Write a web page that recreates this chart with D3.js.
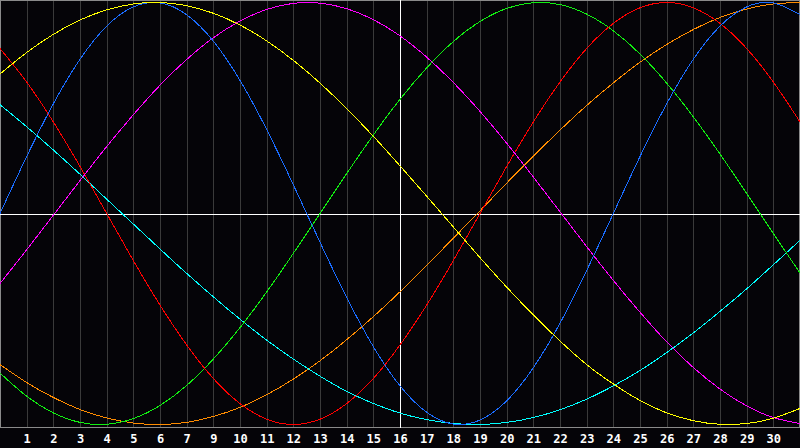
<!DOCTYPE html>
<html>
<head>
<meta charset="utf-8">
<script src="https://cdn.jsdelivr.net/npm/d3@7"></script>
<style>
  html, body { margin: 0; padding: 0; background: #050408; }
  svg { display: block; }
</style>
</head>
<body>
<svg id="chart" width="800" height="448"></svg>
<script>
// day slots 0..30 across the plot
const days = d3.range(0, 31);

// tick labels under grid lines 1..29 (the month skips 8)
const dayLabels = ["1","2","3","4","5","6","7","9","10","11","12","13","14","15","16",
  "17","18","19","20","21","22","23","24","25","26","27","28","29","30"];

// values per day (-1 .. 1)
const yellowVals = [0.661,0.763,0.849,0.917,0.965,0.993,1.0,0.985,0.949,0.893,0.818,0.726,0.618,0.497,0.366,0.226,
  0.082,-0.064,-0.209,-0.349,-0.481,-0.604,-0.716,-0.808,-0.886,-0.945,-0.982,-0.999,-0.995,-0.970,-0.924];
const blueVals = [0,0.270,0.520,0.731,0.888,0.979,0.998,0.942,0.817,0.631,0.398,0.136,-0.136,-0.398,-0.631,-0.817,
  -0.942,-0.998,-0.979,-0.888,-0.731,-0.520,-0.270,0,0.270,0.520,0.731,0.888,0.979,0.998,0.942];
const magentaVals = [-0.332,-0.172,-0.008,0.156,0.317,0.468,0.608,0.730,0.833,0.912,0.967,0.996,0.997,0.971,0.919,0.842,
  0.741,0.621,0.484,0.333,0.173,0.008,-0.157,-0.317,-0.468,-0.608,-0.730,-0.832,-0.912,-0.967,-0.996];
const redVals = [0.782,0.623,0.434,0.223,0,-0.223,-0.434,-0.623,-0.782,-0.901,-0.975,-1.0,-0.975,-0.901,-0.782,-0.623,
  -0.434,-0.223,0,0.223,0.434,0.623,0.782,0.901,0.975,1.0,0.975,0.901,0.782,0.623,0.434];
const greenVals = [-0.756,-0.866,-0.945,-0.990,-0.999,-0.972,-0.910,-0.815,-0.690,-0.541,-0.372,-0.189,0,0.189,0.372,0.541,
  0.690,0.815,0.910,0.972,0.999,0.990,0.945,0.866,0.756,0.618,0.458,0.282,0.095,-0.095,-0.282];
const cyanVals = [0.516,0.411,0.301,0.186,0.068,-0.050,-0.168,-0.284,-0.395,-0.501,-0.600,-0.690,-0.771,-0.843,-0.900,-0.946,
  -0.977,-0.995,-1.0,-0.990,-0.967,-0.930,-0.880,-0.817,-0.744,-0.659,-0.566,-0.464,-0.357,-0.243,-0.127];
const orangeVals = [-0.716,-0.801,-0.872,-0.929,-0.969,-0.993,-1.0,-0.990,-0.962,-0.919,-0.859,-0.785,-0.698,-0.598,-0.489,-0.371,
  -0.246,-0.117,0.013,0.144,0.272,0.395,0.512,0.619,0.717,0.801,0.872,0.929,0.969,0.993,1.0];

const seriesColors = ["#ff8c00", "#00ffff", "#11ee11", "#ff0000", "#ff00ff", "#1a6cff", "#ffff00"];
const series = [orangeVals, cyanVals, greenVals, redVals, magentaVals, blueVals, yellowVals];

const svg = d3.select("#chart");
const plotH = 428;

const x = d3.scaleLinear().domain([0, 30]).range([0, 800]);
const y = d3.scaleLinear().domain([-1, 1]).range([424.5, 2.5]);

svg.append("rect").attr("width", 800).attr("height", 448).attr("fill", "#050408");

// vertical day grid
svg.append("g")
  .selectAll("line")
  .data(d3.range(1, 30))
  .enter().append("line")
    .attr("x1", d => Math.round(x(d)) + 0.5)
    .attr("x2", d => Math.round(x(d)) + 0.5)
    .attr("y1", 0)
    .attr("y2", plotH)
    .attr("stroke", "#3a3a3a")
    .attr("shape-rendering", "crispEdges");

// frame
svg.append("rect")
  .attr("x", 0.5).attr("y", 0.5)
  .attr("width", 799).attr("height", plotH - 1)
  .attr("fill", "none")
  .attr("stroke", "#8a8a8a")
  .attr("shape-rendering", "crispEdges");

// centre cross
svg.append("line")
  .attr("x1", 0).attr("x2", 800)
  .attr("y1", Math.round(y(0)) + 0.5).attr("y2", Math.round(y(0)) + 0.5)
  .attr("stroke", "#ffffff")
  .attr("shape-rendering", "crispEdges");
svg.append("line")
  .attr("x1", Math.round(x(15)) + 0.5).attr("x2", Math.round(x(15)) + 0.5)
  .attr("y1", 0).attr("y2", plotH)
  .attr("stroke", "#ffffff")
  .attr("shape-rendering", "crispEdges");

const line = d3.line()
  .x((d, i) => x(days[i]))
  .y(d => y(d))
  .curve(d3.curveNatural);

series.forEach((s, k) => {
  svg.append("path")
    .datum(s)
    .attr("fill", "none")
    .attr("stroke", seriesColors[k])
    .attr("stroke-width", 1)
    .attr("shape-rendering", "crispEdges")
    .attr("d", line);
});

// day labels
svg.append("g")
  .selectAll("text")
  .data(dayLabels)
  .enter().append("text")
    .attr("x", (d, i) => x(i + 1) + 0.5)
    .attr("y", 443)
    .attr("text-anchor", "middle")
    .attr("fill", "#ffffff")
    .attr("font-family", "DejaVu Sans Mono, monospace")
    .attr("font-weight", "bold")
    .attr("font-size", 12)
    .text(d => d);
</script>
</body>
</html>
